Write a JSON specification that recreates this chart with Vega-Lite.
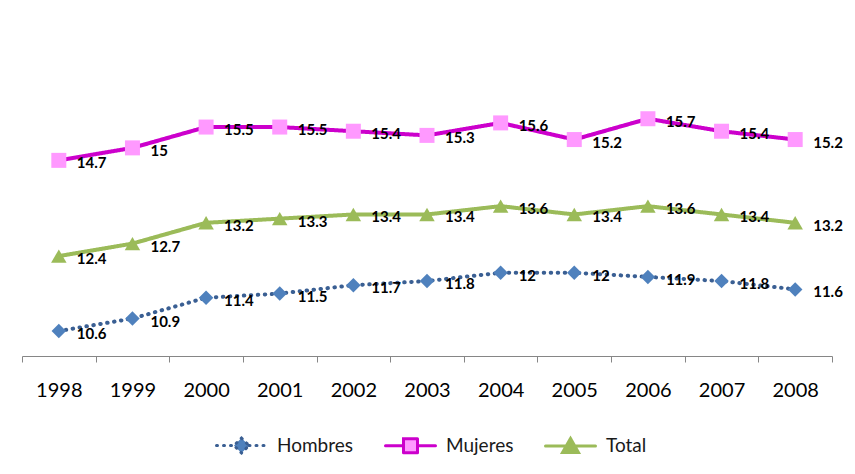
{
  "$schema": "https://vega.github.io/schema/vega-lite/v6.json",
  "width": 810,
  "height": 333,
  "autosize": {"type": "none"},
  "padding": {"left": 22, "top": 23, "right": 23, "bottom": 118},
  "background": "#ffffff",
  "config": {"view": {"stroke": null}},
  "data": {
    "values": [
      {"year": "1998", "series": "Hombres", "value": 10.6},
      {"year": "1999", "series": "Hombres", "value": 10.9},
      {"year": "2000", "series": "Hombres", "value": 11.4},
      {"year": "2001", "series": "Hombres", "value": 11.5},
      {"year": "2002", "series": "Hombres", "value": 11.7},
      {"year": "2003", "series": "Hombres", "value": 11.8},
      {"year": "2004", "series": "Hombres", "value": 12},
      {"year": "2005", "series": "Hombres", "value": 12},
      {"year": "2006", "series": "Hombres", "value": 11.9},
      {"year": "2007", "series": "Hombres", "value": 11.8},
      {"year": "2008", "series": "Hombres", "value": 11.6},
      {"year": "1998", "series": "Mujeres", "value": 14.7},
      {"year": "1999", "series": "Mujeres", "value": 15},
      {"year": "2000", "series": "Mujeres", "value": 15.5},
      {"year": "2001", "series": "Mujeres", "value": 15.5},
      {"year": "2002", "series": "Mujeres", "value": 15.4},
      {"year": "2003", "series": "Mujeres", "value": 15.3},
      {"year": "2004", "series": "Mujeres", "value": 15.6},
      {"year": "2005", "series": "Mujeres", "value": 15.2},
      {"year": "2006", "series": "Mujeres", "value": 15.7},
      {"year": "2007", "series": "Mujeres", "value": 15.4},
      {"year": "2008", "series": "Mujeres", "value": 15.2},
      {"year": "1998", "series": "Total", "value": 12.4},
      {"year": "1999", "series": "Total", "value": 12.7},
      {"year": "2000", "series": "Total", "value": 13.2},
      {"year": "2001", "series": "Total", "value": 13.3},
      {"year": "2002", "series": "Total", "value": 13.4},
      {"year": "2003", "series": "Total", "value": 13.4},
      {"year": "2004", "series": "Total", "value": 13.6},
      {"year": "2005", "series": "Total", "value": 13.4},
      {"year": "2006", "series": "Total", "value": 13.6},
      {"year": "2007", "series": "Total", "value": 13.4},
      {"year": "2008", "series": "Total", "value": 13.2}
    ]
  },
  "encoding": {
    "x": {
      "field": "year",
      "type": "ordinal",
      "bandPosition": 0.5,
      "scale": {"type": "band", "paddingInner": 0, "paddingOuter": 0},
      "axis": {
        "title": null,
        "labelAngle": 0,
        "tickBand": "extent",
        "domainColor": "#868686",
        "tickColor": "#868686",
        "tickSize": 6,
        "grid": false,
        "labelFont": "Lato",
        "labelFontSize": 20,
        "labelColor": "#000000",
        "labelPadding": 18
      }
    },
    "y": {
      "field": "value",
      "type": "quantitative",
      "scale": {"domain": [10, 18], "nice": false, "zero": false},
      "axis": null
    }
  },
  "layer": [
    {
      "mark": {"type": "line", "strokeWidth": 4, "strokeCap": "round"},
      "encoding": {
        "stroke": {
          "field": "series",
          "type": "nominal",
          "scale": {"domain": ["Hombres", "Mujeres", "Total"], "range": ["#3A5F93", "#CC00CC", "#9BBB59"]},
          "legend": {
            "title": null,
            "orient": "none",
            "legendX": 193,
            "legendY": 396,
            "direction": "horizontal",
            "symbolSize": 2500,
            "symbolStrokeWidth": 3,
            "labelFont": "Lato",
            "labelFontSize": 19,
            "labelColor": "#1a1a1a",
            "labelOffset": 9,
            "columnPadding": 25,
            "encode": {
              "symbols": {
                "update": {
                  "shape": {"signal": "datum.value === 'Hombres' ? 'M-1,0H-0.3M0,-0.3L0.3,0L0,0.3L-0.3,0ZM0.3,0H1' : datum.value === 'Mujeres' ? 'M-1,0H-0.28M-0.28,-0.28H0.28V0.28H-0.28ZM0.28,0H1' : 'M-1,0H1M0,-0.3L0.32,0.26L-0.32,0.26Z'"},
                  "fill": {"signal": "datum.value === 'Hombres' ? '#4F81BD' : datum.value === 'Mujeres' ? '#FF99FF' : '#9BBB59'"},
                  "strokeDash": {"signal": "datum.value === 'Hombres' ? [1, 6] : [1, 0]"},
                  "strokeCap": {"value": "round"},
                  "fillOpacity": {"value": 1}
                }
              }
            }
          }
        },
        "strokeDash": {
          "field": "series",
          "type": "nominal",
          "scale": {"domain": ["Hombres", "Mujeres", "Total"], "range": [[0.5, 6.5], [1, 0], [1, 0]]},
          "legend": null
        },
        "strokeWidth": {
          "field": "series",
          "type": "nominal",
          "scale": {"domain": ["Hombres", "Mujeres", "Total"], "range": [3.2, 4, 4]},
          "legend": null
        }
      }
    },
    {
      "mark": {"type": "point", "filled": true, "strokeWidth": 1.5, "opacity": 1},
      "encoding": {
        "shape": {
          "field": "series",
          "type": "nominal",
          "scale": {"domain": ["Hombres", "Mujeres", "Total"], "range": ["diamond", "square", "triangle-up"]},
          "legend": null
        },
        "size": {
          "field": "series",
          "type": "nominal",
          "scale": {"domain": ["Hombres", "Mujeres", "Total"], "range": [210, 240, 240]},
          "legend": null
        },
        "fill": {
          "field": "series",
          "type": "nominal",
          "scale": {"domain": ["Hombres", "Mujeres", "Total"], "range": ["#4F81BD", "#FF99FF", "#9BBB59"]},
          "legend": null
        },
        "color": {
          "field": "series",
          "type": "nominal",
          "scale": {"domain": ["Hombres", "Mujeres", "Total"], "range": ["#4F81BD", "#CC00CC", "#9BBB59"]},
          "legend": null
        }
      }
    },
    {
      "mark": {"type": "text", "align": "left", "baseline": "middle", "dx": 18, "dy": 3, "font": "Lato", "fontSize": 15, "fontWeight": "bold", "color": "#000000"},
      "encoding": {
        "text": {"field": "value", "type": "quantitative"}
      }
    }
  ],
  "resolve": {"scale": {"stroke": "independent", "color": "independent"}}
}
